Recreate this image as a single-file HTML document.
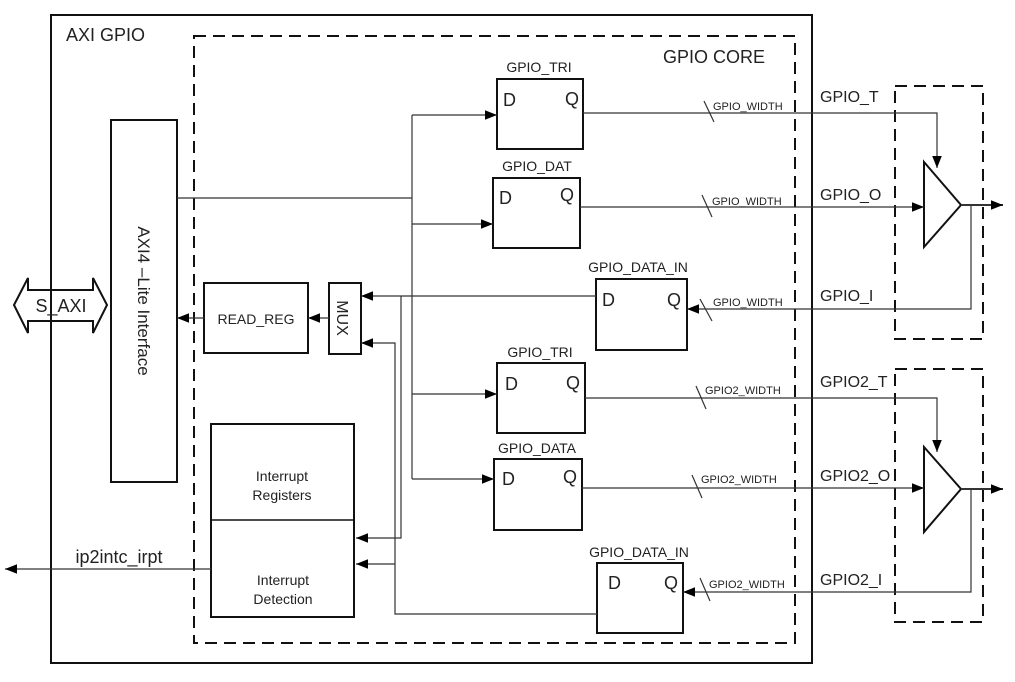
<!DOCTYPE html>
<html><head><style>body{margin:0;background:#fff}svg{display:block}text{font-family:"Liberation Sans",Arial,sans-serif;fill:#222}</style></head>
<body>
<svg width="1015" height="682" viewBox="0 0 1015 682" xmlns="http://www.w3.org/2000/svg">
<defs>
<marker id="a" viewBox="0 0 10 10" refX="10" refY="5" markerWidth="12" markerHeight="12" markerUnits="userSpaceOnUse" orient="auto"><path d="M0,1 L10,5 L0,9 z" fill="#000"/></marker>
</defs>
<g fill="none" stroke="#111">
<rect x="51" y="15" width="761" height="648" stroke-width="2"/>
<rect x="194" y="36" width="601" height="607" stroke-width="2" stroke-dasharray="12,7"/>
<rect x="895" y="86" width="88" height="253" stroke-width="2" stroke-dasharray="12,7"/>
<rect x="895" y="369" width="88" height="253" stroke-width="2" stroke-dasharray="12,7"/>
<rect x="111" y="120" width="66" height="362" stroke-width="2"/>
<path d="M14,305 L28,278 L28,290 L93,290 L93,278 L107,305 L93,333 L93,321 L28,321 L28,333 Z" stroke-width="2"/>
<rect x="204" y="283" width="104" height="70" stroke-width="2"/>
<rect x="329" y="283" width="32" height="71" stroke-width="2"/>
<rect x="211" y="424" width="143" height="193" stroke-width="2"/>
<line x1="211" y1="520" x2="354" y2="520" stroke-width="1.5"/>
<rect x="497" y="79" width="86" height="70" stroke-width="2"/>
<rect x="493" y="178" width="87" height="70" stroke-width="2"/>
<rect x="596" y="279" width="91" height="71" stroke-width="2"/>
<rect x="497" y="363" width="88" height="70" stroke-width="2"/>
<rect x="494" y="459" width="88" height="71" stroke-width="2"/>
<rect x="597" y="563" width="86" height="70" stroke-width="2"/>
<path d="M924,162 L961,205 L924,247 Z" stroke-width="2"/>
<path d="M924,447 L961,489 L924,532 Z" stroke-width="2"/>
</g>
<g fill="none" stroke="#333" stroke-width="1.2">
<path d="M204,318 L177,318" marker-end="url(#a)"/>
<path d="M329,318 L308,318" marker-end="url(#a)"/>
<path d="M596,296 L361,296" marker-end="url(#a)"/>
<path d="M597,614 L395,614 L395,343 L361,343" marker-end="url(#a)"/>
<path d="M401,296 L401,538 L356,538" marker-end="url(#a)"/>
<path d="M395,564 L356,564" marker-end="url(#a)"/>
<path d="M211,569 L5,569" marker-end="url(#a)"/>
<path d="M177,198 L412,198"/>
<path d="M412,115 L412,479"/>
<path d="M412,115 L497,115" marker-end="url(#a)"/>
<path d="M412,224 L493,224" marker-end="url(#a)"/>
<path d="M412,394 L497,394" marker-end="url(#a)"/>
<path d="M412,479 L494,479" marker-end="url(#a)"/>
<path d="M583,113 L937,113 L937,168" marker-end="url(#a)"/>
<path d="M580,207 L924,207" marker-end="url(#a)"/>
<path d="M971,205 L971,309 L687,309" marker-end="url(#a)"/>
<path d="M585,398 L937,398 L937,452" marker-end="url(#a)"/>
<path d="M582,488 L924,488" marker-end="url(#a)"/>
<path d="M971,489 L971,592 L683,592" marker-end="url(#a)"/>
<path d="M961,205 L1003,205" stroke-width="2" marker-end="url(#a)"/>
<path d="M961,489 L1003,489" stroke-width="2" marker-end="url(#a)"/>
<path d="M704,101 L714,122 M702,195 L712,217 M700,299 L712,321 M696,386 L706,409 M692,475 L702,498 M700,578 L710,601"/>
</g>
<text x="66" y="41" font-size="18">AXI GPIO</text>
<text x="663" y="63" font-size="18">GPIO CORE</text>
<text transform="translate(138,301) rotate(90)" font-size="17" text-anchor="middle">AXI4 –Lite Interface</text>
<text x="61" y="312" font-size="18" text-anchor="middle">S_AXI</text>
<text x="256" y="324" font-size="14" text-anchor="middle">READ_REG</text>
<text transform="translate(337,318) rotate(90)" font-size="16" text-anchor="middle">MUX</text>
<text x="282" y="481" font-size="14" text-anchor="middle">Interrupt</text>
<text x="282" y="500" font-size="14" text-anchor="middle">Registers</text>
<text x="283" y="585" font-size="14" text-anchor="middle">Interrupt</text>
<text x="283" y="604" font-size="14" text-anchor="middle">Detection</text>
<text x="119" y="563" font-size="18" text-anchor="middle">ip2intc_irpt</text>
<g font-size="14" text-anchor="middle">
<text x="539" y="72">GPIO_TRI</text>
<text x="537" y="171">GPIO_DAT</text>
<text x="638" y="272">GPIO_DATA_IN</text>
<text x="540" y="357">GPIO_TRI</text>
<text x="537" y="453">GPIO_DATA</text>
<text x="639" y="557">GPIO_DATA_IN</text>
</g>
<g font-size="18">
<text x="503" y="106">D</text><text x="565" y="105">Q</text>
<text x="499" y="204">D</text><text x="560" y="201">Q</text>
<text x="602" y="306">D</text><text x="667" y="306">Q</text>
<text x="505" y="390">D</text><text x="566" y="389">Q</text>
<text x="502" y="485">D</text><text x="563" y="483">Q</text>
<text x="608" y="589">D</text><text x="664" y="589">Q</text>
</g>
<g font-size="11">
<text x="713" y="110">GPIO_WIDTH</text>
<text x="712" y="205">GPIO_WIDTH</text>
<text x="713" y="306">GPIO_WIDTH</text>
<text x="705" y="394">GPIO2_WIDTH</text>
<text x="701" y="483">GPIO2_WIDTH</text>
<text x="709" y="588">GPIO2_WIDTH</text>
</g>
<g font-size="16">
<text x="820" y="102">GPIO_T</text>
<text x="820" y="200">GPIO_O</text>
<text x="820" y="301">GPIO_I</text>
<text x="820" y="387">GPIO2_T</text>
<text x="820" y="481">GPIO2_O</text>
<text x="820" y="585">GPIO2_I</text>
</g>
</svg>
</body></html>
